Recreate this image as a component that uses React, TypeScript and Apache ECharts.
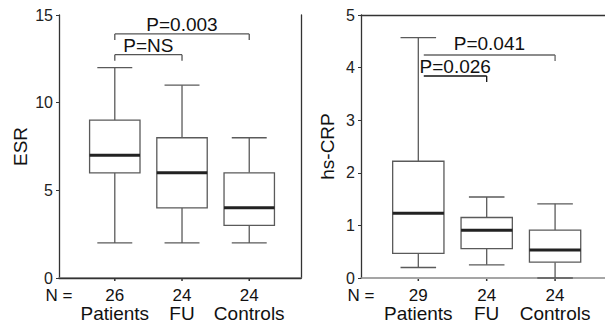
import React, { useEffect, useRef } from "react";
import * as echarts from "echarts";

// ---- data ----
const categories = ["Patients", "FU", "Controls"];
const categoryPos = [1, 2, 3];

// ESR: [low, q1, median, q3, high]
const esrLow = [2, 2, 2];
const esrQ1 = [6, 4, 3];
const esrMedian = [7, 6, 4];
const esrQ3 = [9, 8, 6];
const esrHigh = [12, 11, 8];
const esrN = [26, 24, 24];
const esrTicks = { min: 0, max: 15, interval: 5 };

// hs-CRP
const crpLow = [0.2, 0.25, 0];
const crpQ1 = [0.47, 0.56, 0.3];
const crpMedian = [1.23, 0.91, 0.53];
const crpQ3 = [2.22, 1.15, 0.91];
const crpHigh = [4.57, 1.54, 1.41];
const crpN = [29, 24, 24];
const crpTicks = { min: 0, max: 5, interval: 1 };

// significance brackets
const esrBracketLabels = ["P=0.003", "P=NS"];
const esrBracketFrom = [1, 1];
const esrBracketTo = [3, 2];
const esrBracketLevel = [13.92, 12.74];

const crpBracketLabels = ["P=0.041", "P=0.026"];
const crpBracketFrom = [1.08, 1.08];
const crpBracketTo = [3, 2];
const crpBracketLevel = [4.24, 3.84];

const FONT = "'Liberation Sans', Arial, Helvetica, sans-serif";
const BOX_COLOR = "#5a5a5a";
const MEDIAN_COLOR = "#222";

function boxData(low: number[], q1: number[], med: number[], q3: number[], high: number[], n: number[]) {
  return categoryPos.map((x, i) => [x, low[i], q1[i], med[i], q3[i], high[i], n[i]]);
}

function makeBoxRender(yMin: number) {
  return (params: any, api: any) => {
    const x = api.value(0);
    const low = api.value(1);
    const q1 = api.value(2);
    const med = api.value(3);
    const q3 = api.value(4);
    const high = api.value(5);
    const n = api.value(6);
    const pLow = api.coord([x, low]);
    const pQ1 = api.coord([x, q1]);
    const pMed = api.coord([x, med]);
    const pQ3 = api.coord([x, q3]);
    const pHigh = api.coord([x, high]);
    const pAxis = api.coord([x, yMin]);
    const cx = pMed[0];
    const w = api.size([0.75, 0])[0];
    const cap = api.size([0.52, 0])[0];
    const lineStyle = { stroke: BOX_COLOR, lineWidth: 1.3, fill: null };
    const children: any[] = [
      { type: "line", shape: { x1: cx, y1: pHigh[1], x2: cx, y2: pQ3[1] }, style: lineStyle },
      { type: "line", shape: { x1: cx, y1: pQ1[1], x2: cx, y2: pLow[1] }, style: lineStyle },
      { type: "line", shape: { x1: cx - cap / 2, y1: pHigh[1], x2: cx + cap / 2, y2: pHigh[1] }, style: lineStyle },
      { type: "line", shape: { x1: cx - cap / 2, y1: pLow[1], x2: cx + cap / 2, y2: pLow[1] }, style: lineStyle },
      {
        type: "rect",
        shape: { x: cx - w / 2, y: pQ3[1], width: w, height: pQ1[1] - pQ3[1] },
        style: { stroke: BOX_COLOR, lineWidth: 1.3, fill: "#fff" },
      },
      {
        type: "line",
        shape: { x1: cx - w / 2, y1: pMed[1], x2: cx + w / 2, y2: pMed[1] },
        style: { stroke: MEDIAN_COLOR, lineWidth: 3 },
      },
      { type: "line", shape: { x1: cx, y1: pAxis[1] + 1, x2: cx, y2: pAxis[1] + 3 }, style: { stroke: "#333", lineWidth: 1.5 } },
      {
        type: "text",
        style: { text: String(n), x: cx, y: pAxis[1] + 17, align: "center", verticalAlign: "middle", fontSize: 17, fontFamily: FONT, fill: "#111" },
      },
      {
        type: "text",
        style: { text: categories[params.dataIndex], x: cx, y: pAxis[1] + 35.5, align: "center", verticalAlign: "middle", fontSize: 19, fontFamily: FONT, fill: "#111" },
      },
    ];
    if (params.dataIndex === 0) {
      const coordSys = params.coordSys;
      children.push({
        type: "text",
        style: { text: "N =", x: coordSys.x, y: pAxis[1] + 17, align: "center", verticalAlign: "middle", fontSize: 17, fontFamily: FONT, fill: "#111" },
      });
    }
    return { type: "group", children };
  };
}

function bracketData(from: number[], to: number[], level: number[]) {
  return from.map((f, i) => [f, to[i], level[i]]);
}

function makeBracketRender(labels: string[], dropLeft: boolean, colors: string[], textOffsets: number[]) {
  return (params: any, api: any) => {
    const a = api.coord([api.value(0), api.value(2)]);
    const b = api.coord([api.value(1), api.value(2)]);
    const color = colors[params.dataIndex];
    const st = { stroke: color, lineWidth: 1.3, fill: null };
    const children: any[] = [
      { type: "line", shape: { x1: a[0], y1: a[1], x2: b[0], y2: b[1] }, style: st },
      { type: "line", shape: { x1: b[0], y1: b[1], x2: b[0], y2: b[1] + 6 }, style: st },
      {
        type: "text",
        style: {
          text: labels[params.dataIndex],
          x: (a[0] + b[0]) / 2,
          y: a[1] + textOffsets[params.dataIndex],
          align: "center",
          verticalAlign: "middle",
          fontSize: 19,
          fontFamily: FONT,
          fill: "#111",
        },
      },
    ];
    if (dropLeft) {
      children.push({ type: "line", shape: { x1: a[0], y1: a[1], x2: a[0], y2: a[1] + 6 }, style: st });
    }
    return { type: "group", children };
  };
}

export default function App() {
  const ref = useRef<HTMLDivElement>(null);
  useEffect(() => {
    document.body.style.margin = "0";
    if (!ref.current) return;
    const chart = echarts.init(ref.current, null, { renderer: "svg" });
    const frameLine = { show: true, lineStyle: { color: "#333", width: 1.3 } };
    const hiddenAxisBits = { axisTick: { show: false }, axisLabel: { show: false }, splitLine: { show: false } };
    const yAxisCommon = (t: any, name: string, gridIndex: number, nameGap: number) => ({
      type: "value",
      gridIndex,
      min: t.min,
      max: t.max,
      interval: t.interval,
      name,
      nameLocation: "middle",
      nameGap,
      nameTextStyle: { fontSize: 19, fontFamily: FONT, color: "#111" },
      axisLine: { show: true, lineStyle: { color: "#333", width: 1.3 } },
      axisTick: { show: true, length: 3, lineStyle: { color: "#333" } },
      axisLabel: { fontSize: 16, fontFamily: FONT, color: "#222", margin: 6 },
      splitLine: { show: false },
    });
    chart.setOption({
      animation: false,
      backgroundColor: "#fff",
      grid: [
        { left: 59, top: 15, width: 242, height: 263 },
        { left: 361, top: 15, width: 247, height: 263 },
      ],
      xAxis: [
        { type: "value", gridIndex: 0, min: 0.17, max: 3.77, axisLine: { show: true, lineStyle: { color: "#888", width: 1.5 } }, ...hiddenAxisBits },
        { type: "value", gridIndex: 0, position: "top", min: 0.17, max: 3.77, axisLine: frameLine, ...hiddenAxisBits },
        { type: "value", gridIndex: 1, min: 0.162, max: 3.73, axisLine: { show: true, lineStyle: { color: "#888", width: 1.5 } }, ...hiddenAxisBits },
        { type: "value", gridIndex: 1, position: "top", min: 0.162, max: 3.73, axisLine: frameLine, ...hiddenAxisBits },
      ],
      yAxis: [
        yAxisCommon(esrTicks, "ESR", 0, 29),
        { type: "value", gridIndex: 0, position: "right", min: esrTicks.min, max: esrTicks.max, axisLine: frameLine, ...hiddenAxisBits },
        yAxisCommon(crpTicks, "hs-CRP", 1, 24),
      ],
      series: [
        {
          type: "custom",
          xAxisIndex: 0,
          yAxisIndex: 0,
          renderItem: makeBoxRender(esrTicks.min),
          data: boxData(esrLow, esrQ1, esrMedian, esrQ3, esrHigh, esrN),
          clip: false,
        },
        {
          type: "custom",
          xAxisIndex: 0,
          yAxisIndex: 0,
          renderItem: makeBracketRender(esrBracketLabels, true, ["#555", "#555"], [-9.5, -9]),
          data: bracketData(esrBracketFrom, esrBracketTo, esrBracketLevel),
          clip: false,
        },
        {
          type: "custom",
          xAxisIndex: 2,
          yAxisIndex: 2,
          renderItem: makeBoxRender(crpTicks.min),
          data: boxData(crpLow, crpQ1, crpMedian, crpQ3, crpHigh, crpN),
          clip: false,
        },
        {
          type: "custom",
          xAxisIndex: 2,
          yAxisIndex: 2,
          renderItem: makeBracketRender(crpBracketLabels, false, ["#666", "#111"], [-11.3, -9.7]),
          data: bracketData(crpBracketFrom, crpBracketTo, crpBracketLevel),
          clip: false,
        },
      ],
    });
    return () => chart.dispose();
  }, []);
  return <div ref={ref} style={{ position: "absolute", left: 0, top: 0, width: 605, height: 325 }} />;
}
